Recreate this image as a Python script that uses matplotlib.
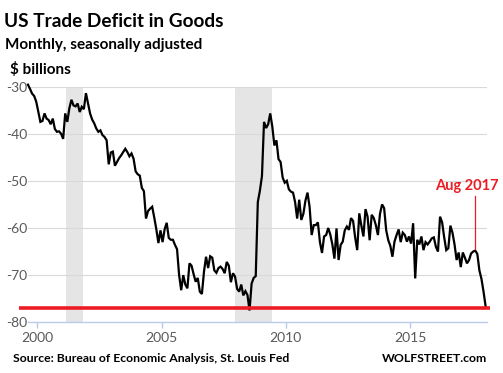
import numpy as np
import matplotlib
matplotlib.use("Agg")
import matplotlib.pyplot as plt

# monthly goods trade balance, $ billions, Aug 1999 onward
deficit = [
    -29.6, -30.5, -31.5, -32.0, -33.2, -35.4, -37.5, -37.3, -35.7, -36.8,
    -37.1, -38.0, -36.8, -39.0, -39.6, -39.5, -40.0, -41.1, -35.7, -37.5,
    -34.6, -32.8, -34.0, -34.2, -33.6, -35.4, -34.3, -34.8, -31.4, -33.6,
    -35.7, -37.0, -37.8, -38.9, -39.6, -39.3, -40.3, -40.7, -41.4, -46.5,
    -44.0, -43.8, -46.8, -46.0, -45.2, -44.6, -43.9, -43.2, -43.9, -44.8,
    -44.2, -45.3, -48.0, -48.6, -48.9, -51.5, -52.2, -58.0, -56.4, -55.9,
    -55.5, -57.8, -60.3, -63.2, -60.5, -63.0, -60.3, -58.9, -62.1, -62.5,
    -62.5, -63.6, -64.5, -70.0, -73.2, -70.0, -72.0, -72.8, -67.5, -68.0,
    -69.8, -71.4, -70.6, -73.5, -74.0, -69.3, -66.1, -68.5, -66.0, -66.3,
    -69.0, -69.5, -68.5, -68.2, -68.7, -69.6, -67.2, -68.0, -71.5, -69.6,
    -70.3, -72.9, -73.5, -72.0, -74.3, -73.4, -74.2, -77.5, -71.8, -70.6,
    -70.2, -54.5, -52.1, -49.0, -37.5, -38.8, -38.0, -35.7, -38.5, -42.5,
    -41.4, -45.4, -46.0, -49.3, -50.4, -50.0, -51.8, -52.3, -52.5, -54.5,
    -58.0, -54.0, -58.3, -57.0, -54.2, -52.5, -55.5, -61.5, -59.4, -59.4,
    -58.8, -63.0, -65.3, -61.8, -61.5, -60.0, -61.4, -63.5, -66.5, -60.1,
    -66.8, -63.6, -62.9, -60.5, -59.7, -60.4, -57.9, -58.5, -62.0, -64.7,
    -56.9, -59.5, -61.8, -56.0, -57.6, -62.6, -57.2, -57.9, -59.4, -61.5,
    -57.0, -55.0, -55.8, -60.5, -62.6, -63.8, -66.1, -62.9, -61.5, -60.3,
    -63.0, -61.0, -61.5, -62.9, -61.8, -63.3, -59.0, -70.7, -62.5, -63.5,
    -61.8, -64.7, -63.0, -63.5, -62.9, -62.2, -62.0, -64.0, -65.0, -57.6,
    -58.8, -62.0, -64.7, -64.3, -59.5, -61.0, -63.5, -66.8, -65.2, -68.3,
    -65.2, -66.3, -67.5, -66.8, -65.4, -65.0, -64.8, -65.5, -69.0, -70.8,
    -73.5, -76.6,
]
start_year, start_month = 1999, 8
recessions = [(2001.17, 2001.85), (2007.95, 2009.45)]
ref_level = -77.0
note_text = "Aug 2017"
note_x = 2017.625
x_ticks = [2000, 2005, 2010, 2015]
y_ticks = [-30, -40, -50, -60, -70, -80]

years = start_year + (start_month - 1 + 0.5 + np.arange(len(deficit))) / 12.0

plt.rcParams['font.family'] = ['Lato', 'DejaVu Sans']
RED = '#ed1c24'
GRAY_TXT = '#595959'

fig = plt.figure(figsize=(5.03, 3.73), dpi=100)
ax = fig.add_axes([0.0563, 0.136, 0.912, 0.632])

for a, b in recessions:
    ax.axvspan(a, b, color='#e5e5e5', lw=0, zorder=0)

for v in y_ticks[:-1]:
    ax.axhline(v, color='#d9d9d9', lw=0.8, zorder=1)

ax.plot(years, deficit, color='black', lw=1.6, zorder=3, clip_on=False,
        solid_joinstyle='miter')

ax.plot([1999.27, 2018.2], [ref_level, ref_level], color=RED, lw=2.6,
        zorder=4, clip_on=False, solid_capstyle='butt')

ax.set_xlim(1999.64, 2018.1)
ax.set_ylim(-80, -30)

# annotation for the last labelled month
note_y = np.interp(note_x, years, deficit)
ax.plot([note_x, note_x], [note_y + 0.4, -53.3], color=RED, lw=0.9, zorder=4)
ax.text(note_x - 0.35, -52.6, note_text, color=RED, fontsize=10.5,
        fontweight='bold', ha='center', va='bottom')

for s in ['left', 'right', 'top']:
    ax.spines[s].set_visible(False)
ax.spines['bottom'].set_color('#b9cbe6')
ax.spines['bottom'].set_linewidth(1.0)

ax.set_xticks(x_ticks)
ax.set_xticklabels([str(t) for t in x_ticks])
ax.set_yticks(y_ticks)
ax.set_yticklabels([str(t) for t in y_ticks])
ax.tick_params(axis='x', colors='#b9cbe6', length=4, width=1, labelcolor=GRAY_TXT,
               labelsize=10, pad=3)
ax.tick_params(axis='y', length=0, labelcolor=GRAY_TXT, labelsize=10, pad=1)

fig.text(0.008, 0.928, "US Trade Deficit in Goods", fontsize=13.7,
         fontweight='bold', color='black', ha='left', va='baseline')
fig.text(0.01, 0.868, "Monthly, seasonally adjusted", fontsize=11,
         fontweight='bold', color='black', ha='left', va='baseline')
fig.text(0.02, 0.802, "$ billions", fontsize=11,
         fontweight='bold', color='black', ha='left', va='baseline')
fig.text(0.026, 0.038, "Source: Bureau of Economic Analysis, St. Louis Fed",
         fontsize=8.8, fontweight='bold', color='black', ha='left', va='center')
fig.text(0.968, 0.038, "WOLFSTREET.com", fontsize=8.8, fontweight='bold',
         color='black', ha='right', va='center')

fig.savefig('out.png', dpi=100)
